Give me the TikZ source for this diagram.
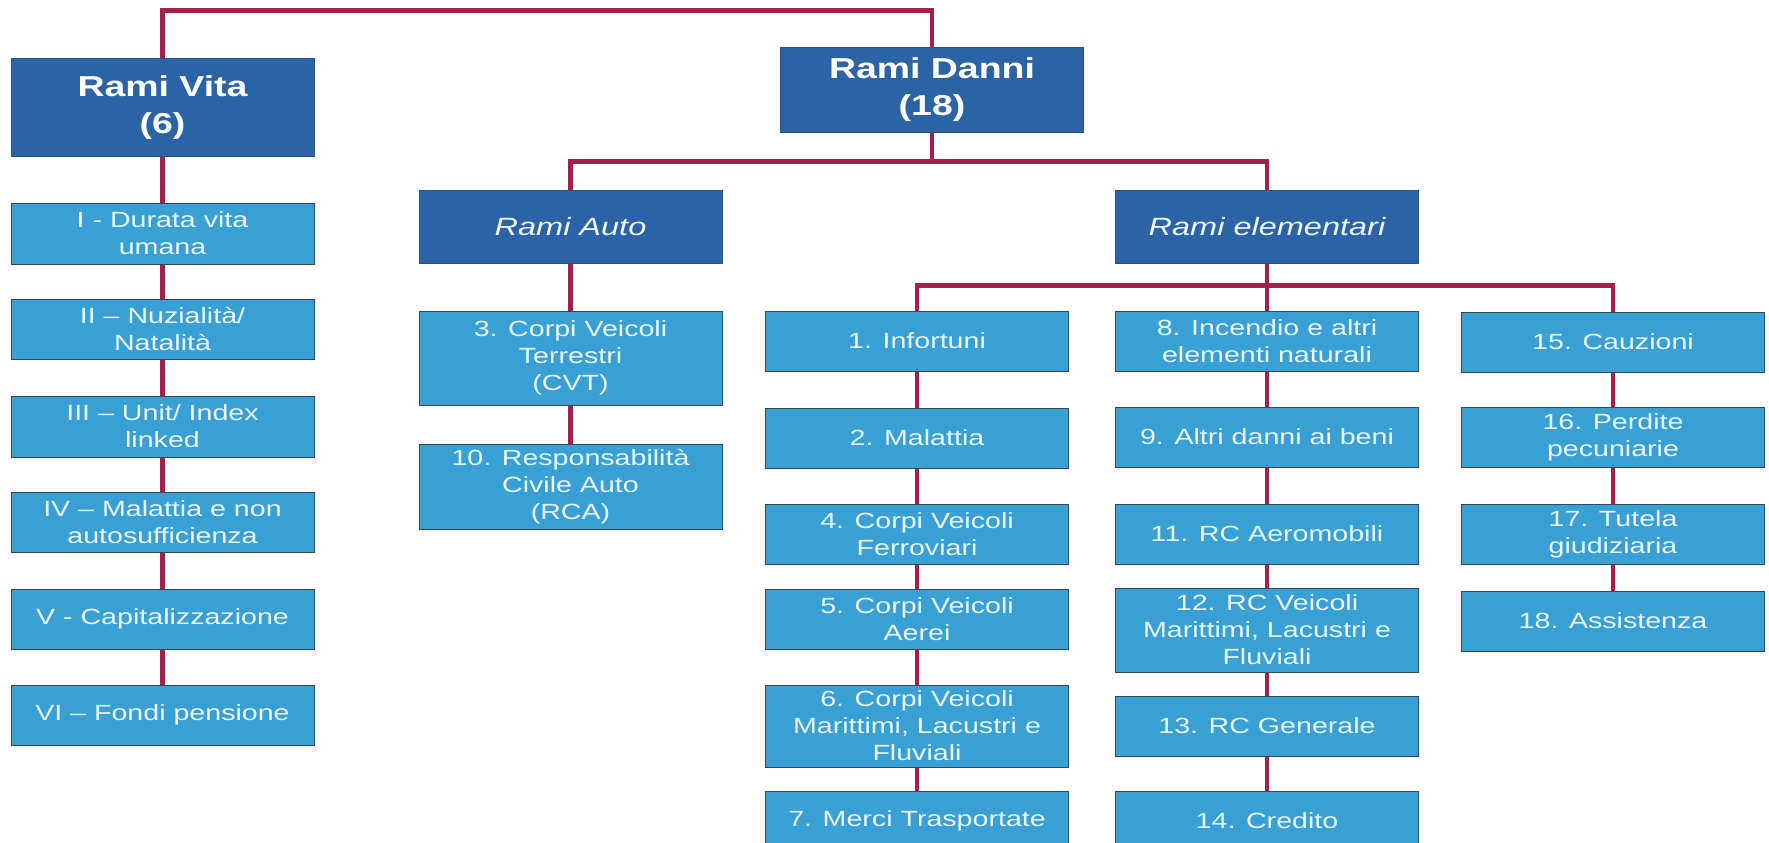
\documentclass[tikz,border=0pt]{standalone}
\usepackage{fontspec}
\setmainfont[FakeStretch=1.3]{Liberation Sans}
\usepackage{tikz}
\usetikzlibrary{positioning}
\definecolor{ramoscuro}{HTML}{2B63A6}
\definecolor{ramochiaro}{HTML}{38A0D5}
\definecolor{bordo}{HTML}{34495E}
\definecolor{linea}{HTML}{A51E4E}
\tikzstyle{mainbox} = [rectangle, minimum width=303pt, align=center, draw=ramoscuro!85!black, line width=1pt, fill=ramoscuro, text=white, font=\fontsize{28.8}{37}\selectfont\bfseries]
\tikzstyle{subbox} = [rectangle, minimum width=303pt, minimum height=73pt, align=center, draw=ramoscuro!85!black, line width=1pt, fill=ramoscuro, text=white!92!ramochiaro, font=\fontsize{25}{30}\selectfont\itshape]
\tikzstyle{leafbox} = [rectangle, minimum width=303pt, minimum height=60pt, inner sep=2pt, align=center, draw=bordo, line width=1pt, fill=ramochiaro, text=white!90!ramochiaro, font=\fontsize{22}{27}\selectfont]
\tikzstyle{connector} = [draw=linea, line width=4.5pt]

\begin{document}
\begin{tikzpicture}[x=1pt, y=-1pt]
        \useasboundingbox (0,0) rectangle (1769,843);
        % top level
        \node (vita) [mainbox, minimum height=97pt] at (162.5,107.5) {Rami Vita\\(6)};
        \node (danni) [mainbox, minimum height=84pt] at (932,90) {Rami Danni\\(18)};
        \node (auto) [subbox] at (570.5,226.5) {Rami Auto};
        \node (elem) [subbox] at (1267,226.5) {Rami elementari};

        % rami vita
        \node (v1) [leafbox, below=46pt of vita, minimum height=61pt] {I - Durata vita\\umana};
        \node (v2) [leafbox, below=34pt of v1] {II – Nuzialità/\\Natalità};
        \node (v3) [leafbox, below=36pt of v2, minimum height=61pt] {III – Unit/ Index\\linked};
        \node (v4) [leafbox, below=34pt of v3] {IV – Malattia e non\\autosufficienza};
        \node (v5) [leafbox, below=36pt of v4] {V - Capitalizzazione};
        \node (v6) [leafbox, below=35pt of v5] {VI – Fondi pensione};

        % rami auto
        \node (a1) [leafbox, below=47pt of auto, minimum height=94pt] {3. Corpi Veicoli\\Terrestri\\(CVT)};
        \node (a2) [leafbox, below=38pt of a1, minimum height=85pt] {10. Responsabilità\\Civile Auto\\(RCA)};

        % rami elementari, first column
        \node (e1) [leafbox, below=47pt of elem, xshift=-350pt] {1. Infortuni};
        \node (e2) [leafbox, below=36pt of e1] {2. Malattia};
        \node (e3) [leafbox, below=35pt of e2] {4. Corpi Veicoli\\Ferroviari};
        \node (e4) [leafbox, below=24pt of e3] {5. Corpi Veicoli\\Aerei};
        \node (e5) [leafbox, below=35pt of e4, minimum height=82pt] {6. Corpi Veicoli\\Marittimi, Lacustri e\\Fluviali};
        \node (e6) [leafbox, below=23pt of e5] {7. Merci Trasportate};

        % second column
        \node (m1) [leafbox, below=47pt of elem] {8. Incendio e altri\\elementi naturali};
        \node (m2) [leafbox, below=35pt of m1] {9. Altri danni ai beni};
        \node (m3) [leafbox, below=36pt of m2] {11. RC Aeromobili};
        \node (m4) [leafbox, below=23pt of m3, minimum height=84pt] {12. RC Veicoli\\Marittimi, Lacustri e\\Fluviali};
        \node (m5) [leafbox, below=23pt of m4] {13. RC Generale};
        \node (m6) [leafbox, below=34pt of m5] {14. Credito};

        % third column
        \node (c1) [leafbox, below=48pt of elem, xshift=346pt] {15. Cauzioni};
        \node (c2) [leafbox, below=34pt of c1] {16. Perdite\\pecuniarie};
        \node (c3) [leafbox, below=36pt of c2] {17. Tutela\\giudiziaria};
        \node (c4) [leafbox, below=26pt of c3] {18. Assistenza};

        % connectors
        \draw [connector] (vita.north) -- ++(0,-48) -| (danni.north);
        \draw [connector] (danni.south) -- ++(0,29) coordinate (dfork);
        \draw [connector] (auto.north) |- (dfork) -| (elem.north);
        \draw [connector] (elem.south) -- ++(0,22) coordinate (efork);
        \draw [connector] (e1.north) |- (efork) -| (c1.north);
        \draw [connector] (efork) -- (m1.north);

        \draw [connector] (vita) -- (v1);
        \draw [connector] (v1) -- (v2);
        \draw [connector] (v2) -- (v3);
        \draw [connector] (v3) -- (v4);
        \draw [connector] (v4) -- (v5);
        \draw [connector] (v5) -- (v6);

        \draw [connector] (auto) -- (a1);
        \draw [connector] (a1) -- (a2);

        \draw [connector] (e1) -- (e2);
        \draw [connector] (e2) -- (e3);
        \draw [connector] (e3) -- (e4);
        \draw [connector] (e4) -- (e5);
        \draw [connector] (e5) -- (e6);

        \draw [connector] (m1) -- (m2);
        \draw [connector] (m2) -- (m3);
        \draw [connector] (m3) -- (m4);
        \draw [connector] (m4) -- (m5);
        \draw [connector] (m5) -- (m6);

        \draw [connector] (c1) -- (c2);
        \draw [connector] (c2) -- (c3);
        \draw [connector] (c3) -- (c4);
    \end{tikzpicture}
\end{document}
